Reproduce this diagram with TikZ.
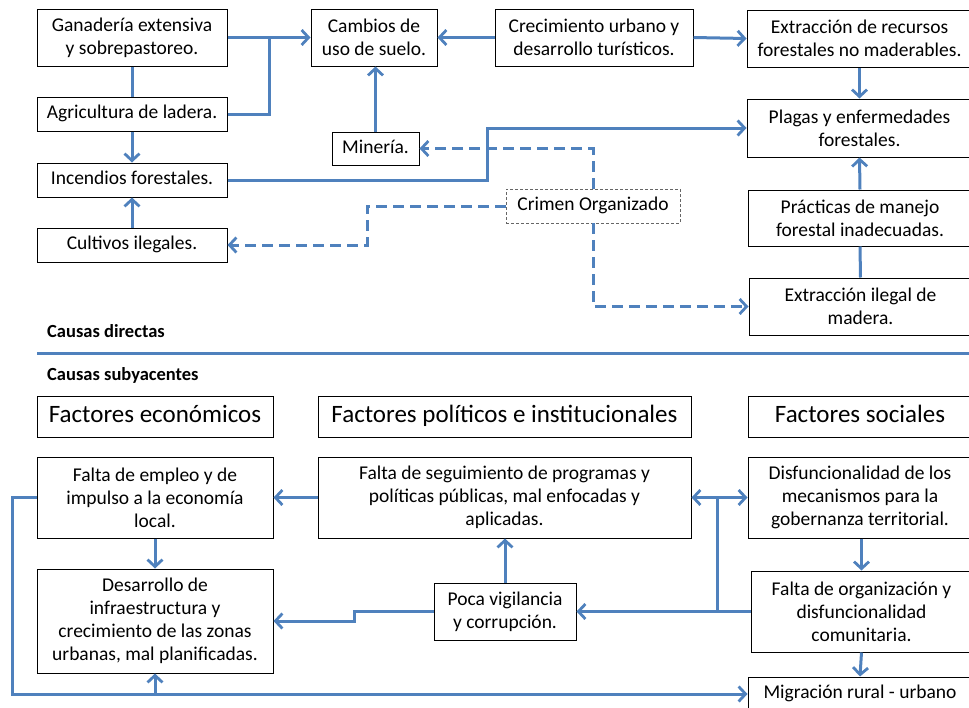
\documentclass[tikz,border=0pt]{standalone}
\usepackage{fontspec}
\setmainfont{Carlito}
\usetikzlibrary{arrows.meta}
\definecolor{cblue}{HTML}{4F81BD}
\begin{document}
\begin{tikzpicture}[x=1pt,y=-1pt,
  box/.style={draw=black,line width=1pt,rectangle,inner sep=0pt,align=center,
    font=\fontsize{19.5}{23}\selectfont},
  one/.style={text height=13.5pt,text depth=4.5pt},
  head/.style={draw=black,line width=1pt,rectangle,inner sep=0pt,align=center,
    text height=17pt,text depth=5.5pt,
    font=\fontsize{25}{30}\selectfont},
  crbox/.style={draw=gray!80!black,line width=0.8pt,dash pattern=on 3pt off 2pt,rectangle,inner sep=0pt,
    text height=13.5pt,text depth=4.5pt,
    font=\fontsize{19.5}{23}\selectfont},
  ln/.style={draw=cblue,line width=3pt},
  tip/.style={},
  arr/.style={ln,-{Straight Barb[length=7pt,width=15pt,line width=2.8pt]}},
  darr/.style={arr,dash pattern=on 11pt off 6pt},
  biarr/.style={ln,{Straight Barb[length=7pt,width=15pt,line width=2.8pt]}-{Straight Barb[length=7pt,width=15pt,line width=2.8pt]}},
  lbl/.style={anchor=base west,inner sep=0pt,font=\fontsize{18.5}{22}\selectfont\bfseries}
]
\useasboundingbox (0,0) rectangle (969,707);
\clip (0,0) rectangle (969,707);
% --- direct causes
\node[box,minimum width=190pt,minimum height=57pt] (gan) at (132,37.5) {Ganadería extensiva\\y sobrepastoreo.};
\node[box,minimum width=126pt,minimum height=57pt] (cam) at (374,37.5) {Cambios de\\uso de suelo.};
\node[box,minimum width=198pt,minimum height=57pt] (cre) at (594,37.5) {Crecimiento urbano y\\desarrollo turísticos.};
\node[box,minimum width=225pt,minimum height=57pt] (ext) at (859.5,38.5) {Extracción de recursos\\forestales no maderables.};
\node[box,one,minimum width=190pt,minimum height=34pt] (agr) at (132,114) {Agricultura de ladera.};
\node[box,one,minimum width=87pt,minimum height=33pt] (min) at (375.5,148.5) {Minería.};
\node[box,one,minimum width=190pt,minimum height=34pt] (inc) at (132,180) {Incendios forestales.};
\node[box,one,minimum width=190pt,minimum height=34pt] (cul) at (132,245) {Cultivos ilegales.};
\node[box,minimum width=225pt,minimum height=58pt] (pla) at (859.5,128) {Plagas y enfermedades\\forestales.};
\node[crbox,minimum width=174pt,minimum height=34pt] (cri) at (593,206) {Crimen Organizado};
\node[box,minimum width=224pt,minimum height=56pt] (pra) at (860,218) {Prácticas de manejo\\forestal inadecuadas.};
\node[box,minimum width=223pt,minimum height=57pt] (eil) at (860.5,306.5) {Extracción ilegal de\\madera.};
% --- separator and labels
\node[lbl] (ldir) at (47,337) {Causas directas};
\node[lbl] (lsub) at (47,380) {Causas subyacentes};
\coordinate (sepL) at (37,353.5);
\coordinate (sepR) at (975,353.5);
\draw[cblue,line width=3.2pt] (sepL) -- (sepR);
% --- underlying causes
\node[head,minimum width=236pt,minimum height=41pt] (fec) at (155,416.5) {Factores económicos};
\node[head,minimum width=373pt,minimum height=41pt] (fpo) at (504.5,416.5) {Factores políticos e institucionales};
\node[head,minimum width=224pt,minimum height=41pt] (fso) at (860,416.5) {Factores sociales};
\node[box,minimum width=236pt,minimum height=81pt] (fem) at (155,497.5) {Falta de empleo y de\\impulso a la economía\\local.};
\node[box,minimum width=373pt,minimum height=81pt] (fsg) at (504.5,497.5) {Falta de seguimiento de programas y\\políticas públicas, mal enfocadas y\\aplicadas.};
\node[box,minimum width=224pt,minimum height=81pt] (dis) at (860,497.5) {Disfuncionalidad de los\\mecanismos para la\\gobernanza territorial.};
\node[box,minimum width=236pt,minimum height=104pt] (des) at (155,621) {Desarrollo de\\infraestructura y\\crecimiento de las zonas\\urbanas, mal planificadas.};
\node[box,minimum width=142pt,minimum height=57pt] (poc) at (505,611.5) {Poca vigilancia\\y corrupción.};
\node[box,minimum width=221pt,minimum height=81pt] (fal) at (861.5,611.5) {Falta de organización y\\disfuncionalidad\\comunitaria.};
\node[box,one,minimum width=224pt,minimum height=34pt] (mig) at (860,694) {Migración rural - urbano};
% --- coordinates
\coordinate (j1) at (269,37.5);
\coordinate (c1) at (487,180);
\coordinate (c2) at (367,206);
\coordinate (c3) at (354,611.5);
\coordinate (c4) at (717,497.5);
\coordinate (c5) at (717,611.5);
\coordinate (c6) at (12,497.5);
% --- connectors top
\draw[arr] (gan.east) -- (cam.west);
\draw[ln] (agr.east) -| (j1);
\draw[ln] (gan.south) -- (agr.north);
\draw[arr] (agr.south) -- (inc.north);
\draw[arr] (cul.north) -- (inc.south);
\draw[arr] (min.north) -- (min.north |- cam.south);
\draw[arr] (cre.west) -- (cam.east);
\draw[arr] (cre.east) -- (ext.west);
\draw[arr] (ext.south) -- (pla.north);
\draw[arr] (pra.north) -- (pla.south);
\draw[ln] (eil.north) -- (pra.south);
\draw[arr] (inc.east) -- (c1) |- (pla.west);
\draw[darr] (cri.north) |- (min.east);
\draw[darr] (cri.south) |- (eil.west);
\draw[darr] (cri.west) -- (c2) |- (cul.east);
% --- connectors bottom
\draw[arr] (fsg.west) -- (fem.east);
\draw[arr] (fem.south) -- (des.north);
\draw[arr] (poc.north) -- (poc.north |- fsg.south);
\draw[arr] (poc.west) -- (c3) |- (des.east);
\draw[biarr] (fsg.east) -- (dis.west);
\draw[arr] (fal.west) -- (poc.east);
\draw[ln] (c4) -- (c5);
\draw[arr] (dis.south -| fal.north) -- (fal.north);
\draw[arr] (fal.south) -- (mig.north);
\draw[arr] (fem.west) -- (c6) |- (mig.west);
\draw[arr] (des.south |- mig.west) -- (des.south);
\end{tikzpicture}
\end{document}
